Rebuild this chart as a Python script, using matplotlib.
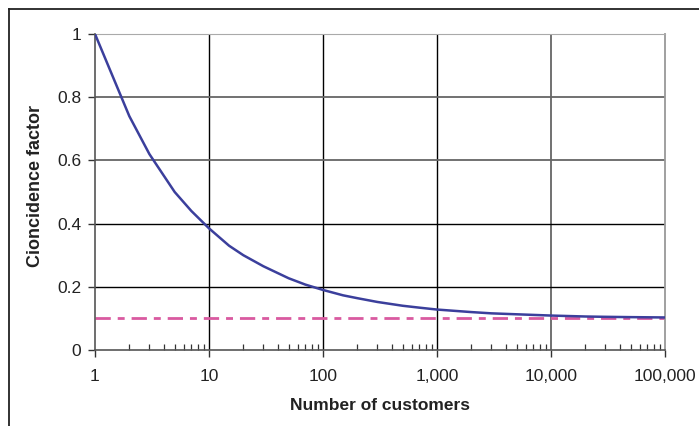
import matplotlib
matplotlib.use("Agg")
import matplotlib.pyplot as plt
from matplotlib.lines import Line2D
from matplotlib.ticker import FixedLocator, LogLocator, NullFormatter

plt.rcParams['font.family'] = ['Liberation Sans', 'DejaVu Sans']

# Data
customers = [1, 2, 3, 5, 7, 10, 15, 20, 30, 50, 70, 100, 150, 200, 300, 500,
             700, 1000, 2000, 3000, 5000, 10000, 20000, 30000, 50000, 100000]
coincidence = [1.0, 0.74, 0.62, 0.50, 0.44, 0.385, 0.33, 0.30, 0.265, 0.227,
               0.207, 0.19, 0.173, 0.164, 0.152, 0.140, 0.134, 0.128, 0.120,
               0.116, 0.113, 0.109, 0.106, 0.105, 0.104, 0.103]
asymptote_x = [1, 100000]
asymptote_y = [0.1, 0.1]
x_ticks = [1, 10, 100, 1000, 10000, 100000]
x_tick_labels = ['1', '10', '100', '1,000', '10,000', '100,000']
y_ticks = [0, 0.2, 0.4, 0.6, 0.8, 1]
y_tick_labels = ['0', '0.2', '0.4', '0.6', '0.8', '1']

fig = plt.figure(figsize=(6.99, 4.26), dpi=100)
ax = fig.add_axes([95/699, 1-350/426, (665-95)/699, (350-34)/426])

# outer frame (top and left visible)
fig.add_artist(Line2D([9/699, 1.0], [1-9/426, 1-9/426], transform=fig.transFigure,
                      color='#222222', lw=1.3))
fig.add_artist(Line2D([9/699, 9/699], [1-9/426, 0.0], transform=fig.transFigure,
                      color='#222222', lw=1.3))

ax.set_xscale('log')
ax.set_xlim(1, 100000)
ax.set_ylim(0, 1)

# grid
for xv in x_ticks[1:-1]:
    ax.axvline(xv, color='black' if xv <= 1000 else '#666666',
               lw=1.0 if xv <= 1000 else 1.3, zorder=1)
for yv in y_ticks[1:-1]:
    ax.axhline(yv, color='black' if yv <= 0.4 else '#666666',
               lw=1.0 if yv <= 0.4 else 1.3, zorder=1)

ax.plot(asymptote_x, asymptote_y, color='#d95aa0', lw=2.0,
        dashes=(5.5, 2.5, 2.5, 2.5), zorder=2)
ax.plot(customers, coincidence, color='#3b3f9c', lw=1.8, zorder=3)

for s in ['left', 'bottom']:
    ax.spines[s].set_color('#555555')
    ax.spines[s].set_linewidth(1.2)
ax.spines['top'].set_color('#aaaaaa')
ax.spines['right'].set_color('#999999')
ax.spines['right'].set_linewidth(1.3)

ax.xaxis.set_major_locator(FixedLocator(x_ticks))
ax.set_xticklabels(x_tick_labels)
ax.xaxis.set_minor_locator(LogLocator(base=10, subs=range(2, 10)))
ax.xaxis.set_minor_formatter(NullFormatter())
ax.set_yticks(y_ticks)
ax.set_yticklabels(y_tick_labels)

ax.tick_params(axis='x', which='major', direction='out', length=5, width=1,
               color='#333333', labelsize=12.5, pad=9, labelcolor='#222222')
ax.tick_params(axis='x', which='minor', direction='in', length=4, width=0.9,
               color='#333333')
ax.tick_params(axis='y', which='major', direction='out', length=5, width=1,
               color='#333333', labelsize=12.5, pad=5, labelcolor='#222222')

ax.set_xlabel('Number of customers', fontsize=12.5, fontweight='bold',
              color='#222222')
ax.set_ylabel('Cioncidence factor', fontsize=13, fontweight='bold',
              color='#222222')
ax.xaxis.set_label_coords(0.5, (350-405)/316)
ax.xaxis.label.set_verticalalignment('center')
ax.yaxis.set_label_coords((36-95)/570, 0.5 + (316/2 - (186.5-34))/316)
ax.yaxis.label.set_verticalalignment('center')

fig.savefig('out.png', dpi=100)
